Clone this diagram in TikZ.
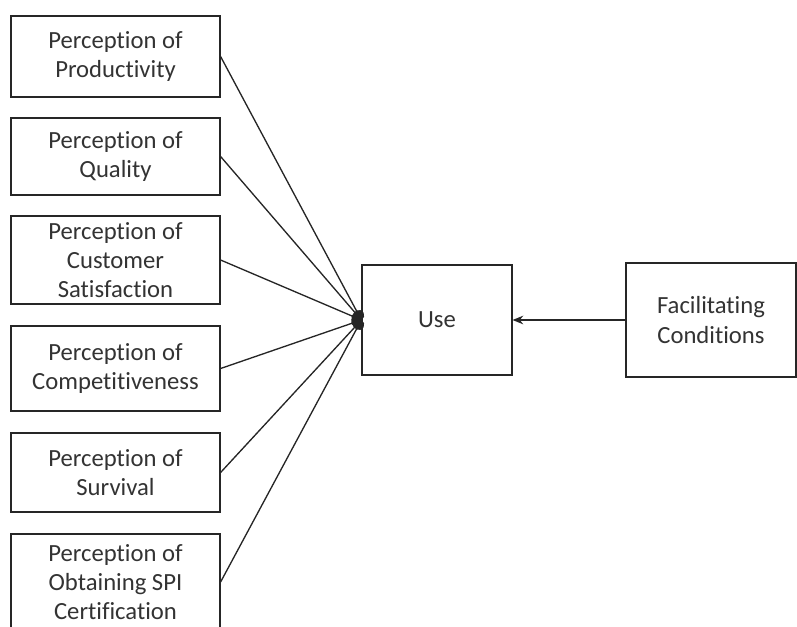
\documentclass[tikz,border=0pt]{standalone}
\usepackage{fontspec}
\setmainfont{Carlito}[Ligatures={NoCommon}]
\usetikzlibrary{arrows.meta}
\begin{document}
\begin{tikzpicture}[x=0.75pt,y=-0.75pt,
  factor/.style={draw=black!85,line width=0.9pt,fill=white,align=center,
    inner sep=0pt,font=\fontsize{18.5}{22}\selectfont,text=black!80},
  link/.style={line width=1pt,draw=black!85},
  hub/.style={-{Circle[length=8pt,width=8pt]}},
  flow/.style={-{Stealth[length=8pt,width=6.5pt]}}]
\useasboundingbox (0,0) rectangle (797,626);
\clip (0,0) rectangle (797,626);
% predictor boxes
\node[factor,minimum width=209*0.75pt,minimum height=81*0.75pt] (b1) at (115.5,56.5) {Perception of\\Productivity};
\node[factor,minimum width=209*0.75pt,minimum height=77*0.75pt] (b2) at (115.5,156.5) {Perception of\\Quality};
\node[factor,minimum width=209*0.75pt,minimum height=88*0.75pt] (b3) at (115.5,260) {Perception of\\Customer\\Satisfaction};
\node[factor,minimum width=209*0.75pt,minimum height=85*0.75pt] (b4) at (115.5,368.5) {Perception of\\Competitiveness};
\node[factor,minimum width=209*0.75pt,minimum height=79*0.75pt] (b5) at (115.5,472.5) {Perception of\\Survival};
\node[factor,minimum width=209*0.75pt,minimum height=96*0.75pt] (b6) at (115.5,582) {Perception of\\Obtaining SPI\\Certification};
% outcome and moderator
\node[factor,minimum width=150*0.75pt,minimum height=110*0.75pt] (u) at (437,320) {Use};
\node[factor,minimum width=170*0.75pt,minimum height=114*0.75pt] (fc) at (711,320) {Facilitating\\Conditions};
% connectors
\foreach \b in {b1,b2,b3,b4,b5,b6}
  \draw[link,hub] (\b.east) -- (u.west);
\draw[link,flow] (fc.west) -- (u.east);
\end{tikzpicture}
\end{document}
